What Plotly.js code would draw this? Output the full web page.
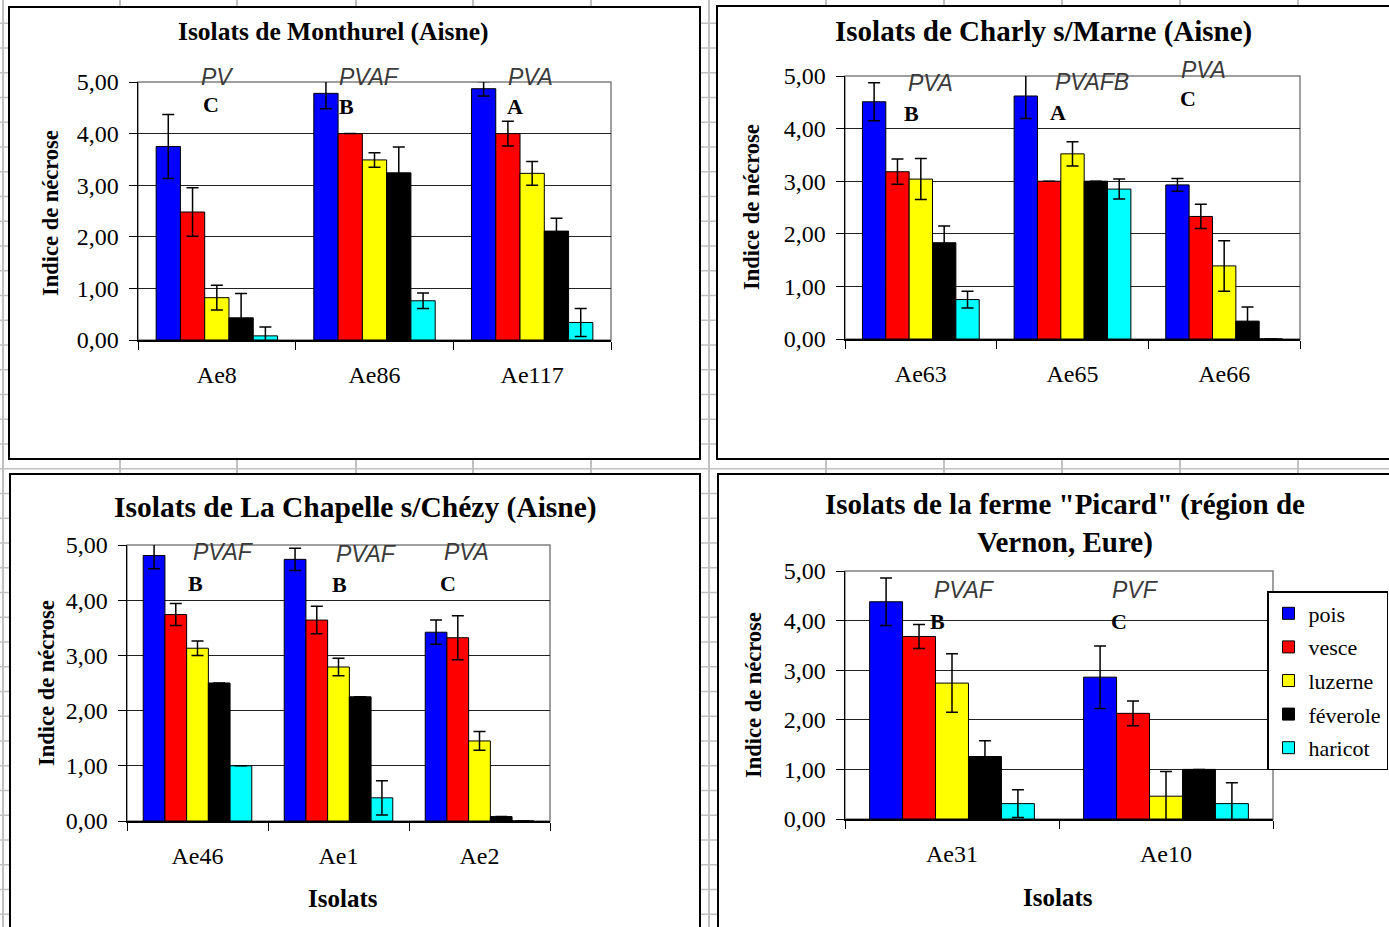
<!DOCTYPE html>
<html>
<head>
<meta charset="utf-8">
<script src="https://cdn.plot.ly/plotly-3.0.1.min.js"></script>
<style>html,body{margin:0;padding:0;background:#fff;overflow:hidden;width:1389px;height:927px;}#chart{width:1389px;height:927px;overflow:hidden;}</style>
</head>
<body>
<div id="chart"></div>
<script>
// ---------- DATA ----------
const seriesNames = ['pois', 'vesce', 'luzerne', 'féverole', 'haricot'];

const monthurelIsolats = ['Ae8', 'Ae86', 'Ae117'];
const monthurelValues = [
  [3.75, 4.78, 4.87],
  [2.48, 4.00, 4.00],
  [0.82, 3.49, 3.23],
  [0.43, 3.24, 2.11],
  [0.08, 0.76, 0.34]
];
const monthurelErrors = [
  [0.62, 0.30, 0.14],
  [0.47, 0.00, 0.24],
  [0.24, 0.14, 0.23],
  [0.47, 0.50, 0.25],
  [0.17, 0.15, 0.27]
];
const monthurelHosts = ['PV', 'PVAF', 'PVA'];
const monthurelGroups = ['C', 'B', 'A'];

const charlyIsolats = ['Ae63', 'Ae65', 'Ae66'];
const charlyValues = [
  [4.51, 4.62, 2.93],
  [3.18, 3.00, 2.33],
  [3.04, 3.52, 1.39],
  [1.83, 3.00, 0.34],
  [0.75, 2.85, 0.00]
];
const charlyErrors = [
  [0.36, 0.43, 0.12],
  [0.24, 0.00, 0.23],
  [0.39, 0.23, 0.48],
  [0.32, 0.00, 0.27],
  [0.16, 0.19, 0.00]
];
const charlyHosts = ['PVA', 'PVAFB', 'PVA'];
const charlyGroups = ['B', 'A', 'C'];

const chapelleIsolats = ['Ae46', 'Ae1', 'Ae2'];
const chapelleValues = [
  [4.81, 4.74, 3.42],
  [3.74, 3.64, 3.32],
  [3.13, 2.79, 1.45],
  [2.50, 2.25, 0.08],
  [1.00, 0.42, 0.00]
];
const chapelleErrors = [
  [0.24, 0.20, 0.22],
  [0.20, 0.25, 0.40],
  [0.13, 0.16, 0.17],
  [0.00, 0.00, 0.00],
  [0.00, 0.31, 0.00]
];
const chapelleHosts = ['PVAF', 'PVAF', 'PVA'];
const chapelleGroups = ['B', 'B', 'C'];

const picardIsolats = ['Ae31', 'Ae10'];
const picardValues = [
  [4.38, 2.86],
  [3.68, 2.13],
  [2.74, 0.46],
  [1.26, 1.00],
  [0.31, 0.31]
];
const picardErrors = [
  [0.48, 0.63],
  [0.24, 0.25],
  [0.59, 0.50],
  [0.32, 0.00],
  [0.28, 0.42]
];
const picardHosts = ['PVAF', 'PVF'];
const picardGroups = ['B', 'C'];

const chartTitles = [
  'Isolats de Monthurel (Aisne)',
  'Isolats de Charly s/Marne (Aisne)',
  'Isolats de La Chapelle s/Chézy (Aisne)',
  'Isolats de la ferme "Picard" (région de<br>Vernon, Eure)'
];
const yTitle = 'Indice de nécrose';
const xTitle = 'Isolats';

// ---------- STYLE / LAYOUT ----------
const W = 1389, H = 927;
const fx = p => p / W;
const fy = p => 1 - p / H;
const colors = ['#0000FF', '#FF0000', '#FFFF00', '#000000', '#00FFFF'];
const SERIF = '"Liberation Serif", "Times New Roman", serif';
const SANS = '"Liberation Sans", Arial, sans-serif';

const charts = [
  {ax: '', isolats: monthurelIsolats, values: monthurelValues, errors: monthurelErrors, legend: false},
  {ax: '2', isolats: charlyIsolats, values: charlyValues, errors: charlyErrors, legend: false},
  {ax: '3', isolats: chapelleIsolats, values: chapelleValues, errors: chapelleErrors, legend: false},
  {ax: '4', isolats: picardIsolats, values: picardValues, errors: picardErrors, legend: true}
];

const traces = [];
charts.forEach(c => {
  seriesNames.forEach((name, i) => {
    traces.push({
      type: 'bar',
      name: name,
      x: c.isolats,
      y: c.values[i],
      xaxis: 'x' + c.ax,
      yaxis: 'y' + c.ax,
      legendgroup: name,
      showlegend: c.legend,
      marker: {color: colors[i], line: {color: '#000', width: 1}},
      error_y: {type: 'data', array: c.errors[i], visible: true, color: '#000', thickness: 1.5, width: 6},
      hoverinfo: 'x+y+name'
    });
  });
});

const domains = [
  {x: [138, 611], y: [340, 82]},
  {x: [845, 1300], y: [339, 76]},
  {x: [127, 550], y: [821, 545]},
  {x: [845, 1273], y: [819, 571]}
];

const layout = {
  width: W, height: H,
  autosize: false,
  margin: {l: 0, r: 0, t: 0, b: 0, pad: 0},
  paper_bgcolor: '#ffffff',
  plot_bgcolor: 'rgba(0,0,0,0)',
  separators: ',.',
  barmode: 'group',
  bargap: 0.23,
  bargroupgap: 0,
  font: {family: SERIF, color: '#000', size: 22},
  showlegend: true,
  legend: {
    x: fx(1388), y: fy(591), xanchor: 'right', yanchor: 'top',
    bgcolor: '#fff', bordercolor: '#000', borderwidth: 1.5,
    font: {family: SERIF, size: 22, color: '#000'},
    tracegroupgap: 2,
    traceorder: 'grouped'
  },
  shapes: [],
  annotations: []
};

charts.forEach((c, k) => {
  const d = domains[k];
  layout['xaxis' + c.ax] = {
    domain: [fx(d.x[0]), fx(d.x[1])],
    anchor: 'y' + c.ax,
    type: 'category',
    showline: true, linecolor: '#000', linewidth: 1.5,
    ticks: 'outside', ticklen: 8, tickwidth: 1, tickcolor: '#000',
    tickson: 'boundaries',
    ticklabelstandoff: 13,
    showgrid: false, zeroline: false,
    tickfont: {family: SERIF, size: 24, color: '#000'},
    fixedrange: true
  };
  layout['yaxis' + c.ax] = {
    domain: [fy(d.y[0]), fy(d.y[1])],
    anchor: 'x' + c.ax,
    range: [0, 5],
    dtick: 1, tick0: 0,
    tickformat: '.2f',
    showline: true, linecolor: '#000', linewidth: 1.5,
    ticks: 'outside', ticklen: 8, tickwidth: 1, tickcolor: '#000',
    ticklabelstandoff: 5,
    showgrid: true, gridcolor: '#222', gridwidth: 1.2,
    zeroline: false,
    tickfont: {family: SERIF, size: 24, color: '#000'},
    fixedrange: true
  };
});

// spreadsheet background grid
const colLines = [3, 120, 237, 356, 473, 591, 709, 826, 944, 1062, 1180, 1298];
colLines.forEach(x => layout.shapes.push({type: 'line', xref: 'paper', yref: 'paper', x0: fx(x), x1: fx(x), y0: 0, y1: 1, line: {color: '#c0c0c0', width: 2}, layer: 'below'}));
for (let y = 23.3; y < H; y += 24.75) {
  layout.shapes.push({type: 'line', xref: 'paper', yref: 'paper', x0: 0, x1: 1, y0: fy(y), y1: fy(y), line: {color: '#c0c0c0', width: 1.5}, layer: 'below'});
}
// chart frames
const frames = [[9, 7, 700, 459], [717, 6, 1400, 459], [10, 474, 700, 940], [718, 474, 1400, 940]];
frames.forEach(f => layout.shapes.push({type: 'rect', xref: 'paper', yref: 'paper', x0: fx(f[0]), x1: fx(f[2]), y0: fy(f[3]), y1: fy(f[1]), fillcolor: '#fff', line: {color: '#000', width: 2}, layer: 'below'}));
// plot area borders
charts.forEach(c => layout.shapes.push({type: 'rect', xref: 'x' + c.ax + ' domain', yref: 'y' + c.ax + ' domain', x0: 0, x1: 1, y0: 0, y1: 1, line: {color: '#808080', width: 1.5}, fillcolor: 'rgba(0,0,0,0)', layer: 'below'}));

// titles
const titlePos = [[333, 32, 25.5], [1043, 32, 29], [355, 507, 29.5], [1065, 523, 29]];
chartTitles.forEach((t, k) => layout.annotations.push({
  text: '<b>' + t + '</b>', xref: 'paper', yref: 'paper', x: fx(titlePos[k][0]), y: fy(titlePos[k][1]),
  xanchor: 'center', yanchor: 'middle', showarrow: false,
  font: {family: SERIF, size: titlePos[k][2], color: '#000'}
}));
// y titles
[[50, 213], [751, 207], [46, 683], [753, 695]].forEach(p => layout.annotations.push({
  text: '<b>' + yTitle + '</b>', xref: 'paper', yref: 'paper', x: fx(p[0]), y: fy(p[1]),
  xanchor: 'center', yanchor: 'middle', showarrow: false, textangle: -90,
  font: {family: SERIF, size: 22.5, color: '#000'}
}));
// x titles
[[343, 898], [1058, 897]].forEach(p => layout.annotations.push({
  text: '<b>' + xTitle + '</b>', xref: 'paper', yref: 'paper', x: fx(p[0]), y: fy(p[1]),
  xanchor: 'center', yanchor: 'middle', showarrow: false,
  font: {family: SERIF, size: 25, color: '#000'}
}));

// host-range and group labels
const hostSets = [monthurelHosts, charlyHosts, chapelleHosts, picardHosts];
const groupSets = [monthurelGroups, charlyGroups, chapelleGroups, picardGroups];
const hostPos = [
  [[218, 77], [369, 77], [530, 77]],
  [[930, 83], [1092, 82], [1203, 70]],
  [[224, 552], [366, 554], [466, 552]],
  [[964, 590], [1135, 590]]
];
const groupPos = [
  [[211, 105], [346, 106], [515, 106]],
  [[911, 114], [1058, 113], [1188, 98]],
  [[196, 583], [339, 584], [448, 583]],
  [[937, 621], [1119, 621]]
];
hostSets.forEach((hs, k) => hs.forEach((h, j) => layout.annotations.push({
  text: '<i>' + h + '</i>', xref: 'paper', yref: 'paper', x: fx(hostPos[k][j][0]), y: fy(hostPos[k][j][1]),
  xanchor: 'center', yanchor: 'middle', showarrow: false,
  font: {family: SANS, size: 23, color: '#3a3a3a'}
})));
groupSets.forEach((gs, k) => gs.forEach((g, j) => layout.annotations.push({
  text: '<b>' + g + '</b>', xref: 'paper', yref: 'paper', x: fx(groupPos[k][j][0]), y: fy(groupPos[k][j][1]),
  xanchor: 'center', yanchor: 'middle', showarrow: false,
  font: {family: SERIF, size: 22, color: '#000'}
})));

Plotly.newPlot('chart', traces, layout, {displayModeBar: false, responsive: false, staticPlot: true});
</script>
</body>
</html>
